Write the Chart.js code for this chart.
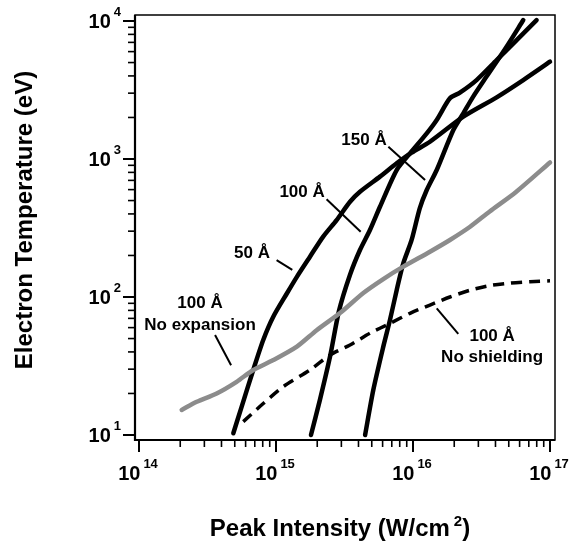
<!DOCTYPE html>
<html>
<head>
<meta charset="utf-8">
<script src="https://cdn.jsdelivr.net/npm/chart.js@4.4.1/dist/chart.umd.min.js"></script>
<style>
  html, body { margin: 0; padding: 0; background: #fff; }
  canvas { display: block; }
</style>
</head>
<body>
<canvas id="chart" width="579" height="546"></canvas>
<script>
// Peak intensity (W/cm^2) vs electron temperature (eV)
const x50 = [4.88e14, 5.61e14, 6.82e14, 8.07e14, 9.55e14, 1.20e15, 1.42e15, 1.77e15, 2.21e15, 2.77e15, 3.47e15, 4.10e15, 5.74e15, 7.60e15, 9.77e15, 1.33e16, 2.33e16, 4.08e16, 6.38e16, 1.0e17];
const t50 = [10.3, 16.0, 29.6, 48.8, 71.9, 106, 140, 196, 274, 361, 490, 579, 745, 931, 1112, 1334, 2028, 2799, 3733, 5070];

const x100 = [1.8e15, 2.09e15, 2.48e15, 2.88e15, 3.47e15, 4.10e15, 4.85e15, 5.74e15, 7.60e15, 9.51e15, 1.26e16, 1.49e16, 1.86e16, 2.20e16, 2.91e16, 4.08e16, 5.71e16, 7.98e16];
const t100 = [10, 17.9, 37, 79, 145, 219, 306, 451, 832, 1099, 1535, 1919, 2754, 3027, 3733, 5212, 7278, 10160];

const x150 = [4.47e15, 5.13e15, 6.07e15, 6.79e15, 7.60e15, 8.49e15, 9.77e15, 1.12e16, 1.26e16, 1.49e16, 1.97e16, 2.33e16, 2.75e16, 3.44e16, 4.82e16, 6.38e16];
const t150 = [10, 21.2, 43.7, 68.1, 112, 175, 259, 439, 596, 832, 1622, 2143, 2831, 3954, 6516, 10160];

const xNoExp = [2.05e14, 2.64e14, 3.69e14, 5.16e14, 6.82e14, 9.55e14, 1.42e15, 1.98e15, 2.98e15, 4.34e15, 6.07e15, 8.49e15, 1.33e16, 1.86e16, 2.61e16, 3.63e16, 5.62e16, 1.0e17];
const tNoExp = [15.2, 17.4, 20.0, 24.3, 29.6, 34.9, 43.7, 57.5, 77.6, 107, 135, 166, 213, 259, 323, 417, 575, 944];

const xNoShield = [5.77e14, 8.07e14, 1.13e15, 1.77e15, 2.48e15, 3.47e15, 4.85e15, 6.79e15, 9.51e15, 1.33e16, 1.86e16, 2.61e16, 3.65e16, 5.11e16, 7.14e16, 1.0e17];
const tNoShield = [12.5, 16.9, 22.4, 29.6, 38.0, 44.9, 54.6, 64.4, 76.2, 87.5, 100, 112, 121, 126, 129, 131];

// leader lines: [x1, y1, x2, y2]
const leaderLines = [
  [1.01e15, 185, 1.315e15, 157],
  [3.59e14, 53, 4.70e14, 32],
  [2.34e15, 511, 4.15e15, 297],
  [6.61e15, 1228, 1.225e16, 705],
  [1.49e16, 82.8, 2.14e16, 54]
];

const labelText = ['50 Å', '100 Å', '150 Å', '100 Å', 'No expansion', '100 Å', 'No shielding'];
const labelX = [6.68e14, 1.55e15, 4.39e15, 2.79e14, 2.79e14, 3.78e16, 3.78e16];
const labelY = [208, 577, 1374, 90.6, 62.6, 52.1, 36.7];

const xDecades = [14, 15, 16, 17];
const yDecades = [1, 2, 3, 4];

const FONT = '"Liberation Sans", Arial, Helvetica, sans-serif';

function toPoints(xs, ys) {
    return xs.map((x, i) => ({ x: x, y: ys[i] }));
}

function curve(xs, ys, color, width, dash) {
    return {
        data: toPoints(xs, ys),
        borderColor: color,
        borderWidth: width,
        borderDash: dash || [],
        borderCapStyle: dash ? 'butt' : 'round',
        borderJoinStyle: 'round',
        pointRadius: 0,
        tension: 0.25,
        fill: false
    };
}

const datasets = [
    curve(xNoExp, tNoExp, '#8c8c8c', 4.5),
    curve(xNoShield, tNoShield, '#000', 3.5, [11, 7]),
    curve(x50, t50, '#000', 4.5),
    curve(x100, t100, '#000', 4.5),
    curve(x150, t150, '#000', 4.5)
];

leaderLines.forEach(l => {
    datasets.push({
        data: [{ x: l[0], y: l[1] }, { x: l[2], y: l[3] }],
        borderColor: '#000',
        borderWidth: 2,
        pointRadius: 0,
        tension: 0,
        fill: false
    });
});

// draws "10" with a raised exponent
function drawPower(ctx, exp, x, y, align) {
    const base = '10';
    const sup = String(exp);
    ctx.font = 'bold 20px ' + FONT;
    const wb = ctx.measureText(base).width;
    ctx.font = 'bold 13px ' + FONT;
    const ws = ctx.measureText(sup).width;
    const gap = 3;
    const total = wb + gap + ws;
    let x0 = align === 'center' ? x - total / 2 : x - total;
    ctx.textAlign = 'left';
    ctx.textBaseline = 'alphabetic';
    ctx.font = 'bold 20px ' + FONT;
    ctx.fillText(base, x0, y);
    ctx.font = 'bold 13px ' + FONT;
    ctx.fillText(sup, x0 + wb + gap, y - 12);
}

const axesPlugin = {
    id: 'axesPlugin',
    afterDraw(chart) {
        const ctx = chart.ctx;
        const xs = chart.scales.x;
        const ys = chart.scales.y;
        const a = chart.chartArea;
        ctx.save();
        ctx.strokeStyle = '#000';
        ctx.fillStyle = '#000';

        // frame
        ctx.lineWidth = 1.5;
        ctx.strokeRect(a.left, a.top, a.right - a.left, a.bottom - a.top);
        ctx.lineWidth = 2.2;
        ctx.beginPath();
        ctx.moveTo(a.left, a.top);
        ctx.lineTo(a.left, a.bottom);
        ctx.lineTo(a.right, a.bottom);
        ctx.stroke();

        // x ticks
        xDecades.forEach((d, i) => {
            const px = xs.getPixelForValue(Math.pow(10, d));
            ctx.lineWidth = 2;
            ctx.beginPath();
            ctx.moveTo(px, a.bottom);
            ctx.lineTo(px, a.bottom + 12);
            ctx.stroke();
            drawPower(ctx, d, px - 1, a.bottom + 40, 'center');
            if (i < xDecades.length - 1) {
                for (let m = 2; m <= 9; m++) {
                    const mx = xs.getPixelForValue(m * Math.pow(10, d));
                    ctx.lineWidth = 1.6;
                    ctx.beginPath();
                    ctx.moveTo(mx, a.bottom);
                    ctx.lineTo(mx, a.bottom + 7);
                    ctx.stroke();
                }
            }
        });

        // y ticks
        yDecades.forEach((d, i) => {
            const py = ys.getPixelForValue(Math.pow(10, d));
            ctx.lineWidth = 2;
            ctx.beginPath();
            ctx.moveTo(a.left, py);
            ctx.lineTo(a.left - 12, py);
            ctx.stroke();
            drawPower(ctx, d, a.left - 14, py + 7, 'right');
            if (i < yDecades.length - 1) {
                for (let m = 2; m <= 9; m++) {
                    const my = ys.getPixelForValue(m * Math.pow(10, d));
                    ctx.lineWidth = 1.6;
                    ctx.beginPath();
                    ctx.moveTo(a.left, my);
                    ctx.lineTo(a.left - 7, my);
                    ctx.stroke();
                }
            }
        });

        // curve labels
        ctx.font = 'bold 17px ' + FONT;
        ctx.textAlign = 'center';
        ctx.textBaseline = 'middle';
        labelText.forEach((t, i) => {
            ctx.fillText(t, xs.getPixelForValue(labelX[i]), ys.getPixelForValue(labelY[i]));
        });

        // x axis title with superscript
        const main = 'Peak Intensity (W/cm';
        ctx.font = 'bold 24px ' + FONT;
        const wMain = ctx.measureText(main).width;
        const wClose = ctx.measureText(')').width;
        ctx.font = 'bold 15px ' + FONT;
        const wSup = ctx.measureText('2').width;
        const total = wMain + 4 + wSup + wClose;
        let tx = (a.left + a.right) / 2 - 5 - total / 2;
        const ty = 536;
        ctx.textAlign = 'left';
        ctx.textBaseline = 'alphabetic';
        ctx.font = 'bold 24px ' + FONT;
        ctx.fillText(main, tx, ty);
        ctx.font = 'bold 15px ' + FONT;
        ctx.fillText('2', tx + wMain + 4, ty - 10);
        ctx.font = 'bold 24px ' + FONT;
        ctx.fillText(')', tx + wMain + 4 + wSup, ty);

        // y axis title
        ctx.translate(25, 220);
        ctx.rotate(-Math.PI / 2);
        ctx.textAlign = 'center';
        ctx.textBaseline = 'middle';
        ctx.fillText('Electron Temperature (eV)', 0, 0);
        ctx.restore();
    }
};

new Chart(document.getElementById('chart'), {
    type: 'line',
    data: { datasets: datasets },
    options: {
        responsive: false,
        animation: false,
        devicePixelRatio: 1,
        layout: { padding: { left: 135, top: 15, right: 24, bottom: 106 } },
        plugins: {
            legend: { display: false },
            tooltip: { enabled: false }
        },
        scales: {
            x: {
                type: 'logarithmic',
                display: false,
                bounds: 'data',
                min: Math.pow(10, 13.9708),
                max: Math.pow(10, 17.0365)
            },
            y: {
                type: 'logarithmic',
                display: false,
                bounds: 'data',
                min: Math.pow(10, 0.9638),
                max: Math.pow(10, 4.0435)
            }
        }
    },
    plugins: [axesPlugin]
});
</script>
</body>
</html>
